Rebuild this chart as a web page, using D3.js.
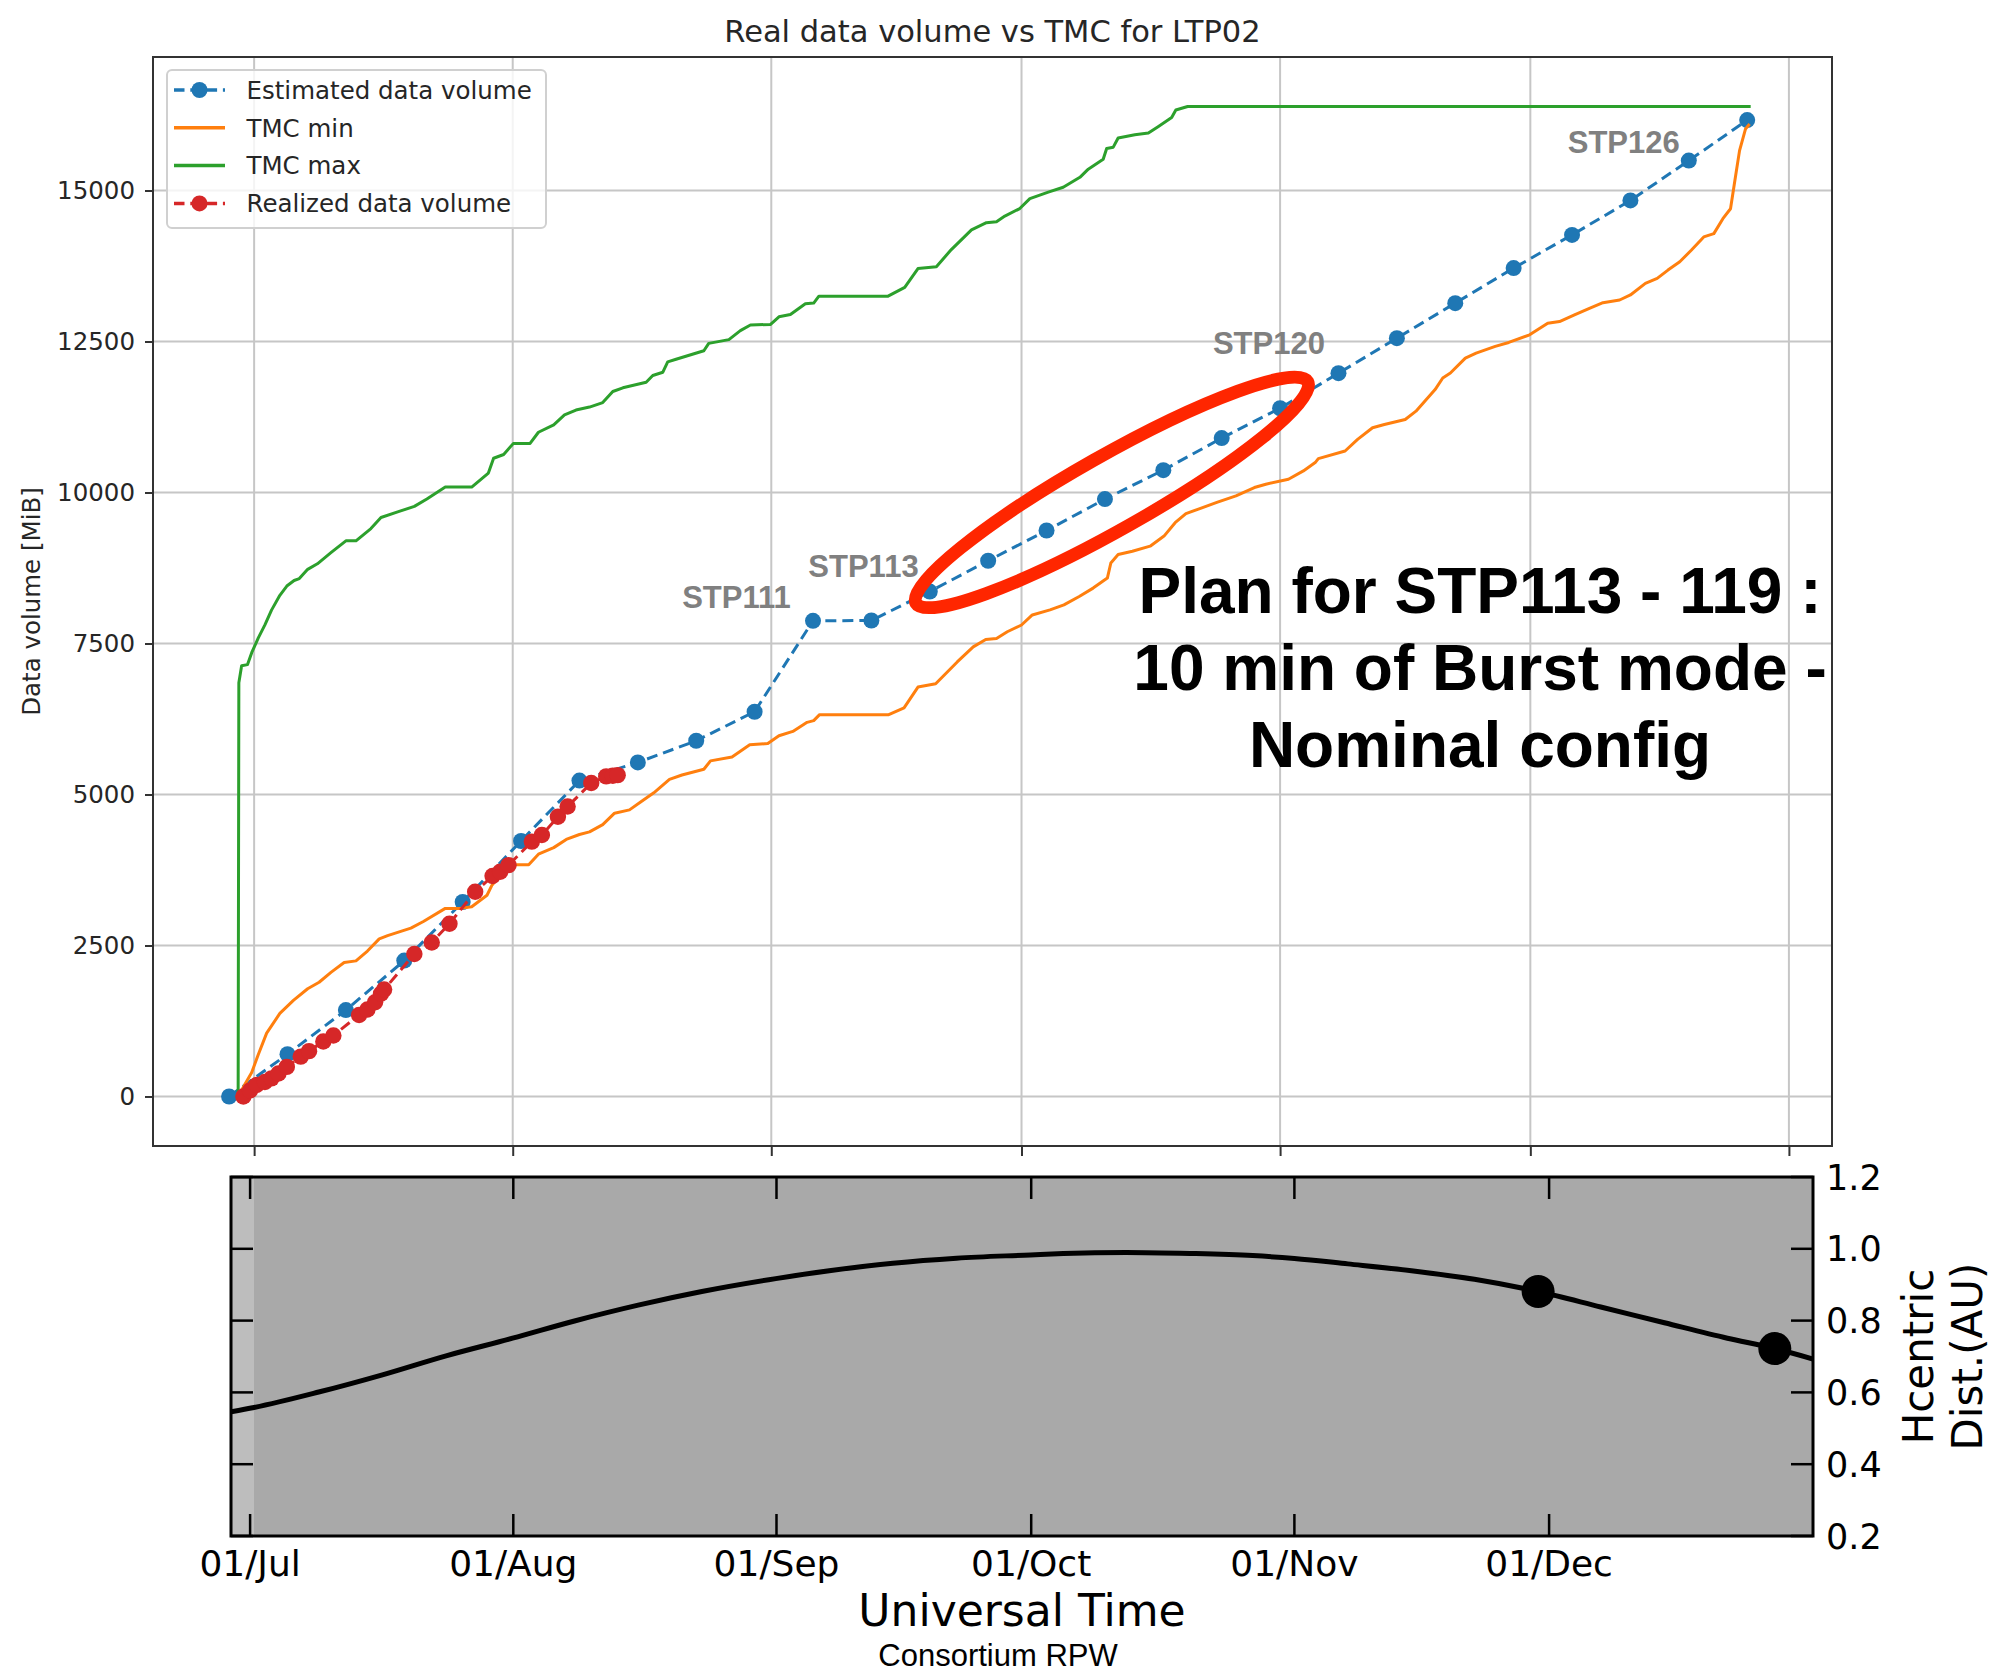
<!DOCTYPE html>
<html><head><meta charset="utf-8">
<script src="https://cdn.jsdelivr.net/npm/d3@7"></script>
<style>body{margin:0;background:#fff}svg{display:block}</style>
</head><body>
<svg id="c" width="1992" height="1674"></svg>
<script>
const parse = d3.utcParse("%Y-%m-%d %H");

// ---------- DATA ----------
const estDates = ["2020-06-28 00","2020-07-05 00","2020-07-12 00","2020-07-19 00","2020-07-26 00","2020-08-02 00","2020-08-09 00","2020-08-16 00","2020-08-23 00","2020-08-30 00","2020-09-06 00","2020-09-13 00","2020-09-20 00","2020-09-27 00","2020-10-04 00","2020-10-11 00","2020-10-18 00","2020-10-25 00","2020-11-01 00","2020-11-08 00","2020-11-15 00","2020-11-22 00","2020-11-29 00","2020-12-06 00","2020-12-13 00","2020-12-20 00","2020-12-27 00"];
const estValues = [0,700,1430,2250,3220,4230,5230,5530,5890,6370,7875,7880,8360,8870,9370,9890,10370,10900,11395,11975,12555,13135,13715,14265,14835,15495,16165];

const realDates = ["2020-06-29 17","2020-06-30 12","2020-07-01 07","2020-07-02 07","2020-07-03 02","2020-07-03 22","2020-07-04 22","2020-07-06 14","2020-07-07 14","2020-07-09 07","2020-07-10 12","2020-07-13 14","2020-07-14 14","2020-07-15 12","2020-07-16 05","2020-07-16 14","2020-07-20 05","2020-07-22 07","2020-07-24 10","2020-07-27 12","2020-07-29 14","2020-07-30 12","2020-07-31 12","2020-08-03 07","2020-08-04 12","2020-08-06 10","2020-08-07 14","2020-08-10 10","2020-08-12 05","2020-08-13 00","2020-08-13 14"];
const realValues = [0,100,190,240,300,380,490,660,750,910,1010,1350,1440,1560,1700,1770,2360,2550,2860,3390,3650,3720,3830,4220,4330,4630,4800,5190,5300,5310,5320];

const minDates = ["2020-06-29 02","2020-06-29 22","2020-06-30 17","2020-07-01 12","2020-07-02 12","2020-07-04 02","2020-07-05 17","2020-07-07 10","2020-07-08 19","2020-07-10 05","2020-07-11 19","2020-07-13 05","2020-07-14 14","2020-07-16 00","2020-07-17 00","2020-07-19 19","2020-07-21 07","2020-07-23 22","2020-07-25 17","2020-07-27 02","2020-07-28 22","2020-07-29 12","2020-07-30 12","2020-07-31 17","2020-08-01 12","2020-08-02 22","2020-08-04 02","2020-08-05 22","2020-08-07 10","2020-08-09 00","2020-08-10 05","2020-08-11 19","2020-08-13 05","2020-08-15 00","2020-08-16 07","2020-08-17 22","2020-08-19 19","2020-08-21 07","2020-08-23 22","2020-08-24 17","2020-08-27 07","2020-08-29 10","2020-08-31 14","2020-09-01 22","2020-09-03 14","2020-09-05 07","2020-09-06 02","2020-09-06 19","2020-09-15 02","2020-09-16 22","2020-09-18 14","2020-09-20 17","2020-09-23 07","2020-09-25 05","2020-09-26 17","2020-09-28 00","2020-09-29 07","2020-10-01 00","2020-10-02 07","2020-10-04 10","2020-10-06 02","2020-10-07 22","2020-10-09 14","2020-10-11 07","2020-10-11 17","2020-10-12 14","2020-10-14 07","2020-10-16 10","2020-10-18 02","2020-10-19 10","2020-10-20 17","2020-10-22 05","2020-10-24 10","2020-10-26 17","2020-10-28 22","2020-10-30 07","2020-11-02 00","2020-11-03 19","2020-11-05 05","2020-11-05 14","2020-11-08 19","2020-11-10 07","2020-11-12 02","2020-11-13 12","2020-11-16 00","2020-11-17 07","2020-11-19 14","2020-11-20 12","2020-11-21 10","2020-11-23 05","2020-11-24 12","2020-11-26 19","2020-11-28 10","2020-11-30 22","2020-12-03 02","2020-12-04 12","2020-12-06 07","2020-12-08 02","2020-12-09 17","2020-12-11 17","2020-12-13 00","2020-12-14 19","2020-12-16 05","2020-12-17 12","2020-12-18 22","2020-12-20 07","2020-12-21 19","2020-12-23 00","2020-12-24 02","2020-12-25 00","2020-12-25 14","2020-12-26 02","2020-12-26 19","2020-12-27 07"];
const minValues = [0,207,397,696,1049,1375,1592,1783,1891,2054,2217,2245,2408,2609,2663,2788,2897,3114,3114,3141,3332,3495,3658,3821,3837,3837,4011,4120,4256,4337,4381,4500,4690,4745,4870,5028,5250,5322,5417,5556,5622,5822,5844,5972,6044,6194,6222,6322,6322,6433,6778,6833,7194,7444,7567,7583,7694,7806,7972,8056,8139,8278,8417,8583,8833,8972,9028,9111,9278,9500,9650,9725,9835,9945,10082,10137,10220,10357,10495,10560,10687,10879,11072,11126,11209,11346,11703,11896,11978,12225,12308,12418,12484,12610,12802,12830,12940,13050,13143,13187,13270,13462,13544,13682,13819,14011,14231,14286,14533,14698,15220,15660,16017,16100];

const maxDates = ["2020-06-29 02","2020-06-29 04","2020-06-29 12","2020-06-30 05","2020-06-30 17","2020-07-01 12","2020-07-02 07","2020-07-03 02","2020-07-04 02","2020-07-04 22","2020-07-05 19","2020-07-06 10","2020-07-07 10","2020-07-08 14","2020-07-10 05","2020-07-12 00","2020-07-13 05","2020-07-15 00","2020-07-16 05","2020-07-18 05","2020-07-20 05","2020-07-21 17","2020-07-23 22","2020-07-27 02","2020-07-29 02","2020-07-29 17","2020-07-30 22","2020-08-01 02","2020-08-03 02","2020-08-04 02","2020-08-05 22","2020-08-07 05","2020-08-08 14","2020-08-10 05","2020-08-11 19","2020-08-13 00","2020-08-14 05","2020-08-17 00","2020-08-17 19","2020-08-19 00","2020-08-19 14","2020-08-20 14","2020-08-23 22","2020-08-24 12","2020-08-26 22","2020-08-28 07","2020-08-29 12","2020-08-31 22","2020-09-01 22","2020-09-03 07","2020-09-05 02","2020-09-06 02","2020-09-06 17","2020-09-15 00","2020-09-17 00","2020-09-18 14","2020-09-20 19","2020-09-22 14","2020-09-25 00","2020-09-26 19","2020-09-28 00","2020-09-29 00","2020-09-30 19","2020-10-02 00","2020-10-04 05","2020-10-06 00","2020-10-08 00","2020-10-09 00","2020-10-10 19","2020-10-11 05","2020-10-12 00","2020-10-12 14","2020-10-14 14","2020-10-16 05","2020-10-17 10","2020-10-19 00","2020-10-19 12","2020-10-20 22","2020-12-27 10"];
const maxValues = [0,6850,7130,7150,7347,7592,7807,8052,8298,8451,8543,8574,8727,8819,9003,9200,9200,9402,9586,9678,9770,9893,10089,10089,10322,10567,10629,10813,10813,10997,11120,11285,11365,11414,11488,11672,11733,11825,11936,11991,12163,12206,12347,12469,12531,12680,12772,12783,12908,12946,13125,13136,13250,13250,13397,13707,13739,14022,14348,14467,14484,14576,14701,14864,14973,15054,15218,15353,15516,15696,15717,15870,15924,15951,16060,16207,16332,16390,16390];

const stpLabels = ["STP111","STP113","STP120","STP126"];
const stpDates  = ["2020-09-03 08","2020-09-18 16","2020-11-06 09","2020-12-18 22"];
const stpValues = [8083,8596,12293,15616];

const yTicks = [0,2500,5000,7500,10000,12500,15000];
const monthTicks = ["2020-07-01 00","2020-08-01 00","2020-09-01 00","2020-10-01 00","2020-11-01 00","2020-12-01 00","2021-01-01 00"];
const monthLabels = ["01/Jul","01/Aug","01/Sep","01/Oct","01/Nov","01/Dec"];

const distDates = ["2020-06-28 18","2020-07-01 11","2020-07-09 02","2020-07-16 14","2020-07-24 02","2020-07-31 22","2020-08-08 05","2020-08-15 17","2020-08-23 05","2020-08-31 22","2020-09-07 05","2020-09-14 17","2020-09-22 05","2020-09-30 22","2020-10-04 19","2020-10-12 05","2020-10-19 17","2020-10-27 02","2020-11-01 00","2020-11-07 07","2020-11-14 19","2020-11-22 05","2020-11-29 17","2020-12-07 02","2020-12-14 14","2020-12-22 00","2020-12-27 14","2021-01-01 02"];
const distValues = [0.546,0.558,0.601,0.649,0.702,0.751,0.799,0.843,0.881,0.917,0.939,0.960,0.974,0.983,0.987,0.990,0.987,0.981,0.973,0.958,0.939,0.915,0.881,0.838,0.794,0.751,0.722,0.693];
const distMarkerDates = ["2020-11-29 17","2020-12-27 14"];
const distMarkerValues = [0.881,0.722];
const distTicks = [0.2,0.4,0.6,0.8,1.0,1.2];
const distTickLabels = ["0.2","0.4","0.6","0.8","1.0","1.2"];

const legendLabels = ["Estimated data volume","TMC min","TMC max","Realized data volume"];
const annotLines = ["Plan for STP113 - 119 :","10 min of Burst mode -","Nominal config"];

// ---------- CHART ----------
const C = {blue:"#1f77b4", orange:"#ff7f0e", green:"#2ca02c", red:"#d62728"};
const svg = d3.select("#c");
const MPL = "DejaVu Sans";
const P = {l:153, r:1832, t:57, b:1146};
const x = d3.scaleUtc().domain([parse("2020-06-18 21"), parse("2021-01-06 04")]).range([P.l, P.r]);
const y = d3.scaleLinear().domain([-820, 17210]).range([P.b, P.t]);
const months = monthTicks.map(parse);

svg.append("defs").append("clipPath").attr("id","clipTop")
  .append("rect").attr("x",P.l).attr("y",P.t).attr("width",P.r-P.l).attr("height",P.b-P.t);

const topG = svg.append("g");
// grid
topG.append("g").selectAll("line").data(months).join("line")
  .attr("x1",d=>x(d)).attr("x2",d=>x(d)).attr("y1",P.t).attr("y2",P.b)
  .attr("stroke","#c6c6c6").attr("stroke-width",2);
topG.append("g").selectAll("line").data(yTicks).join("line")
  .attr("x1",P.l).attr("x2",P.r).attr("y1",d=>y(d)).attr("y2",d=>y(d))
  .attr("stroke","#c6c6c6").attr("stroke-width",2);

// axes
const ax = topG.append("g").attr("transform",`translate(0,${P.b})`)
  .call(d3.axisBottom(x).tickValues(months).tickFormat("").tickSize(10));
const ay = topG.append("g").attr("transform",`translate(${P.l},0)`)
  .call(d3.axisLeft(y).tickValues(yTicks).tickFormat(d3.format("d")).tickSize(8).tickPadding(10));
[ax,ay].forEach(a=>{a.select(".domain").remove(); a.selectAll(".tick line").attr("stroke","#333").attr("stroke-width",2);});
ay.selectAll(".tick text").attr("font-family",MPL).attr("font-size",24.5).attr("fill","#262626");

const plot = topG.append("g").attr("clip-path","url(#clipTop)");
const line = d3.line().x(d=>x(d.t)).y(d=>y(d.v));
const zip = (ds,vs)=>ds.map((d,i)=>({t:parse(d), v:vs[i]}));
const est = zip(estDates,estValues), real = zip(realDates,realValues),
      tmin = zip(minDates,minValues), tmax = zip(maxDates,maxValues);

plot.append("path").datum(est).attr("d",line).attr("fill","none").attr("stroke",C.blue).attr("stroke-width",3).attr("stroke-dasharray","11,6");
plot.append("g").selectAll("circle").data(est).join("circle").attr("cx",d=>x(d.t)).attr("cy",d=>y(d.v)).attr("r",8).attr("fill",C.blue);
plot.append("path").datum(tmin).attr("d",line).attr("fill","none").attr("stroke",C.orange).attr("stroke-width",3).attr("stroke-linejoin","round");
plot.append("path").datum(tmax).attr("d",line).attr("fill","none").attr("stroke",C.green).attr("stroke-width",3).attr("stroke-linejoin","round");
plot.append("path").datum(real).attr("d",line).attr("fill","none").attr("stroke",C.red).attr("stroke-width",3).attr("stroke-dasharray","11,6");
plot.append("g").selectAll("circle").data(real).join("circle").attr("cx",d=>x(d.t)).attr("cy",d=>y(d.v)).attr("r",8.2).attr("fill",C.red);

// STP labels
topG.append("g").selectAll("text").data(stpLabels).join("text")
  .attr("x",(d,i)=>x(parse(stpDates[i]))).attr("y",(d,i)=>y(stpValues[i]))
  .attr("text-anchor","end").attr("font-family","Liberation Sans, Arial, sans-serif")
  .attr("font-weight","bold").attr("font-size",31).attr("fill","#808080").text(d=>d);

// frame
topG.append("rect").attr("x",P.l).attr("y",P.t).attr("width",P.r-P.l).attr("height",P.b-P.t)
  .attr("fill","none").attr("stroke","#333").attr("stroke-width",2);

// title & y label
svg.append("text").attr("x",(P.l+P.r)/2).attr("y",41.5).attr("text-anchor","middle")
  .attr("font-family",MPL).attr("font-size",30.5).attr("fill","#262626").text("Real data volume vs TMC for LTP02");
svg.append("text").attr("transform",`translate(40,${(P.t+P.b)/2}) rotate(-90)`).attr("text-anchor","middle")
  .attr("font-family",MPL).attr("font-size",24.5).attr("fill","#262626").text("Data volume [MiB]");

// legend
const L = {x:167, y:70, w:379, h:158, row:37.8};
const lg = svg.append("g");
lg.append("rect").attr("x",L.x).attr("y",L.y).attr("width",L.w).attr("height",L.h).attr("rx",5)
  .attr("fill","#fff").attr("fill-opacity",0.8).attr("stroke","#d0d0d0").attr("stroke-width",2);
const legendStyle = [{c:C.blue,dash:true},{c:C.orange,dash:false},{c:C.green,dash:false},{c:C.red,dash:true}];
legendLabels.forEach((lab,i)=>{
  const cy = L.y + 20 + i*L.row, s = legendStyle[i];
  lg.append("line").attr("x1",174).attr("x2",225).attr("y1",cy).attr("y2",cy).attr("stroke",s.c)
    .attr("stroke-width",3.5).attr("stroke-dasharray",s.dash?"10.5,5.8":null);
  if(s.dash) lg.append("circle").attr("cx",199.5).attr("cy",cy).attr("r",8).attr("fill",s.c);
  lg.append("text").attr("x",246.5).attr("y",cy).attr("dy","0.36em").attr("font-family",MPL)
    .attr("font-size",24.5).attr("fill","#262626").text(lab);
});

// red ellipse annotation (centred in data coordinates)
const ell = {t:"2020-10-11 20", v:10000, rx:225, ry:37, angle:-29.5};
svg.append("ellipse").attr("transform",`translate(${x(parse(ell.t))},${y(ell.v)}) rotate(${ell.angle})`)
  .attr("rx",ell.rx).attr("ry",ell.ry).attr("fill","none").attr("stroke","#ff2600").attr("stroke-width",13);

// big annotation text
svg.append("g").selectAll("text").data(annotLines).join("text")
  .attr("x",1480).attr("y",(d,i)=>613+i*77).attr("text-anchor","middle")
  .attr("font-family","Liberation Sans, Arial, sans-serif").attr("font-weight","bold")
  .attr("font-size",64).attr("fill","#000").text(d=>d);

// ---------- BOTTOM PANEL ----------
const B = {l:231, r:1813, t:1177, b:1536};
const xb = d3.scaleUtc().domain([parse("2020-06-28 18"), parse("2021-01-01 02")]).range([B.l, B.r]);
const yb = d3.scaleLinear().domain([0.2, 1.2]).range([B.b, B.t]);
const shadeStart = parse("2020-07-01 11");
svg.append("defs").append("clipPath").attr("id","clipBot")
  .append("rect").attr("x",B.l).attr("y",B.t).attr("width",B.r-B.l).attr("height",B.b-B.t);
const bot = svg.append("g");
bot.append("rect").attr("x",B.l).attr("y",B.t).attr("width",B.r-B.l).attr("height",B.b-B.t).attr("fill","#bdbdbd");
bot.append("rect").attr("x",xb(shadeStart)).attr("y",B.t).attr("width",B.r-xb(shadeStart)).attr("height",B.b-B.t).attr("fill","#a9a9a9");
const dist = zip(distDates,distValues);
const bl = bot.append("g").attr("clip-path","url(#clipBot)");
bl.append("path").datum(dist).attr("d",d3.line().x(d=>xb(d.t)).y(d=>yb(d.v)).curve(d3.curveMonotoneX))
  .attr("fill","none").attr("stroke","#000").attr("stroke-width",5);
bl.append("g").selectAll("circle").data(distMarkerDates).join("circle")
  .attr("cx",d=>xb(parse(d))).attr("cy",(d,i)=>yb(distMarkerValues[i])).attr("r",16.5).attr("fill","#000");

const bMonths = months.slice(0,6);
const tk = bot.append("g").attr("stroke","#000").attr("stroke-width",2.5);
bMonths.forEach(m=>{
  tk.append("line").attr("x1",xb(m)).attr("x2",xb(m)).attr("y1",B.b).attr("y2",B.b-22);
  tk.append("line").attr("x1",xb(m)).attr("x2",xb(m)).attr("y1",B.t).attr("y2",B.t+22);
});
distTicks.forEach(v=>{
  tk.append("line").attr("x1",B.l).attr("x2",B.l+22).attr("y1",yb(v)).attr("y2",yb(v));
  tk.append("line").attr("x1",B.r).attr("x2",B.r-22).attr("y1",yb(v)).attr("y2",yb(v));
});
bot.append("rect").attr("x",B.l).attr("y",B.t).attr("width",B.r-B.l).attr("height",B.b-B.t)
  .attr("fill","none").attr("stroke","#000").attr("stroke-width",3);

bot.append("g").selectAll("text").data(monthLabels).join("text")
  .attr("x",(d,i)=>xb(bMonths[i])).attr("y",1576).attr("text-anchor","middle")
  .attr("font-family",MPL).attr("font-size",36).attr("fill","#000").text(d=>d);
bot.append("g").selectAll("text").data(distTickLabels).join("text")
  .attr("x",1826).attr("y",(d,i)=>yb(distTicks[i])).attr("dy","0.36em")
  .attr("font-family",MPL).attr("font-size",35).attr("fill","#000").text(d=>d);
bot.append("text").attr("x",(B.l+B.r)/2).attr("y",1626).attr("text-anchor","middle")
  .attr("font-family",MPL).attr("font-size",44).attr("fill","#000").text("Universal Time");
["Hcentric","Dist.(AU)"].forEach((t,i)=>{
  bot.append("text").attr("transform",`translate(${1933+i*49},${(B.t+B.b)/2}) rotate(-90)`)
    .attr("text-anchor","middle").attr("font-family",MPL).attr("font-size",42).attr("fill","#000").text(t);
});
svg.append("text").attr("x",998).attr("y",1666).attr("text-anchor","middle")
  .attr("font-family","Liberation Sans, Arial, sans-serif").attr("font-size",31).attr("fill","#000").text("Consortium RPW");
</script>
</body></html>
